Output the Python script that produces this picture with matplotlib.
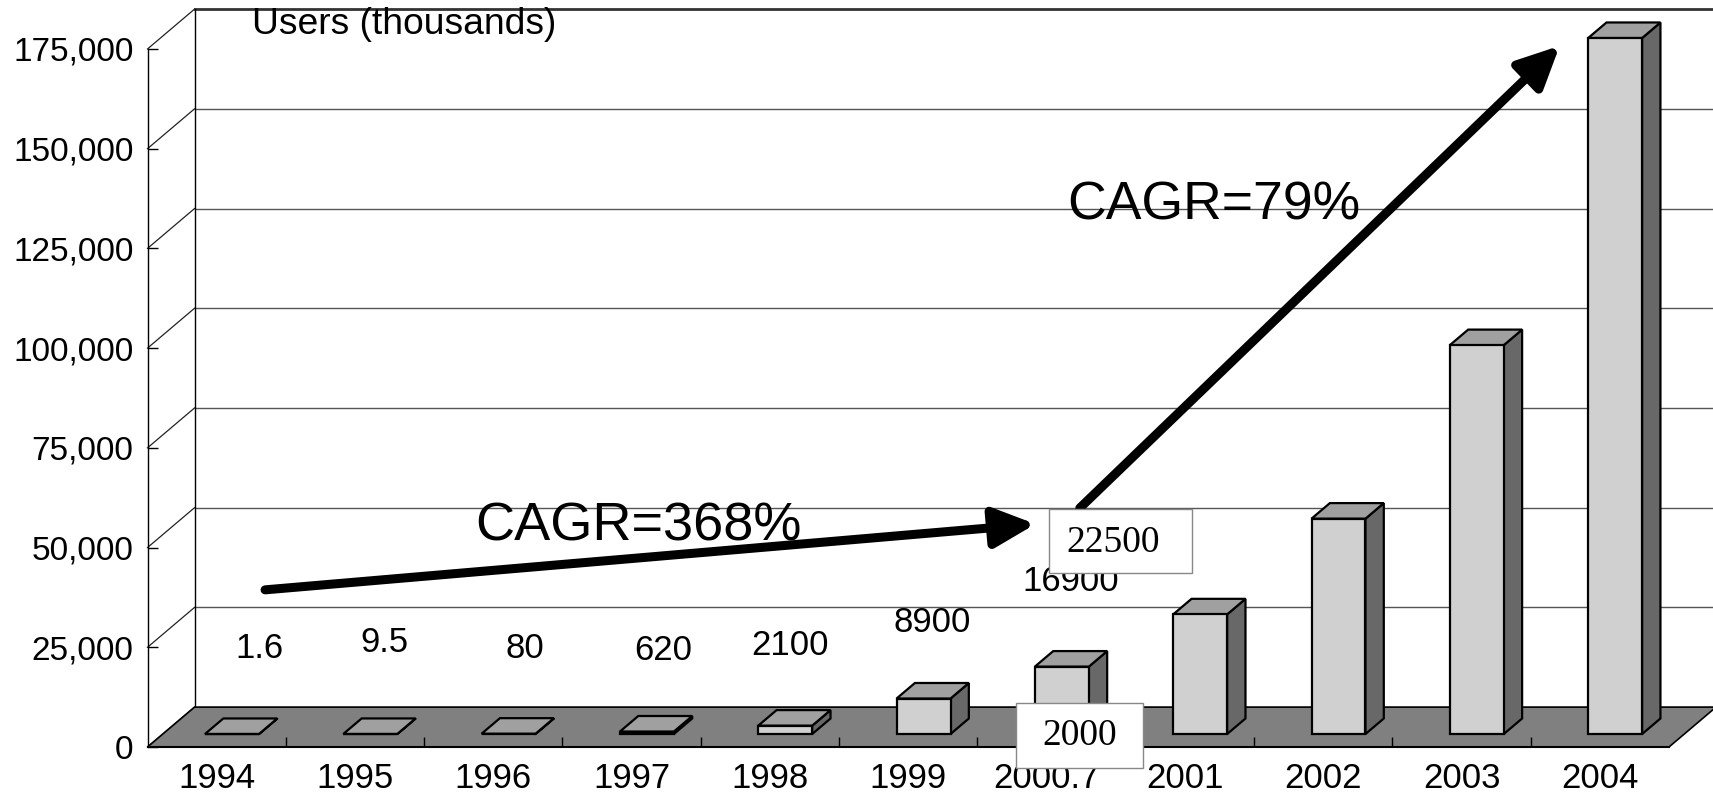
import matplotlib
matplotlib.use('Agg')
import matplotlib.pyplot as plt
from matplotlib.patches import Polygon, Rectangle, FancyArrowPatch
from matplotlib.ticker import FuncFormatter

plt.rcParams['font.family'] = ['Liberation Sans', 'DejaVu Sans']
NARROW = ['Liberation Sans Narrow', 'Liberation Sans', 'DejaVu Sans']
SERIF = ['Liberation Serif', 'DejaVu Serif']

# internet users per year, thousands
years = ['1994', '1995', '1996', '1997', '1998', '1999', '2000.7',
         '2001', '2002', '2003', '2004']
users = [1.6, 9.5, 80, 620, 2100, 8900, 16900, 30000, 54000, 97500, 174500]

# values written above the early bars
value_text = ['1.6', '9.5', '80', '620', '2100', '8900', '16900']
value_dx = [0.31, 0.21, 0.225, 0.23, 0.145, 0.17, 0.175]
value_y = [24600, 26200, 24600, 24100, 25400, 31200, 41600]

y_ticks = [0, 25000, 50000, 75000, 100000, 125000, 150000, 175000]

# boxed callouts: year 2000 -> 22500 thousand users
callout_text = ['22500', '2000']
callout_xy = [(6.98, 51100), (6.74, 2700)]
callout_box = [(6.517, 43500, 1.035, 16150), (6.28, -5300, 0.92, 16450)]

# growth arrows and their captions
cagr_text = ['CAGR=368%', 'CAGR=79%']
cagr_xy = [(2.37, 55300), (6.65, 135800)]
cagr_font = [(NARROW, 39), (['Liberation Sans', 'DejaVu Sans'], 38.5)]
cagr_from = [(0.85, 39400), (6.74, 59900)]
cagr_to = [(6.42, 55900), (10.21, 175800)]

# depth of the fake 3-D box, in data units
DX, DY = 0.34, 10000
BAR_W = 0.39
BAR_FRONT = 0.325   # bar front face, as share of floor depth
BAR_DEPTH = 0.39    # bar depth, as share of floor depth


def draw_bar(ax, x, v):
    """Draw one shaded 3-D column centred on category position x."""
    x0 = x + BAR_FRONT * DX - BAR_W / 2
    x1 = x0 + BAR_W
    y0 = BAR_FRONT * DY
    y1 = y0 + v
    bx, by = BAR_DEPTH * DX, BAR_DEPTH * DY
    side = [(x1, y0), (x1 + bx, y0 + by), (x1 + bx, y1 + by), (x1, y1)]
    top = [(x0, y1), (x1, y1), (x1 + bx, y1 + by), (x0 + bx, y1 + by)]
    front = [(x0, y0), (x1, y0), (x1, y1), (x0, y1)]
    for pts, c in ((side, '#686868'), (top, '#a0a0a0'), (front, '#d0d0d0')):
        ax.add_patch(Polygon(pts, closed=True, fc=c, ec='black', lw=1.6,
                             joinstyle='miter', zorder=3, clip_on=False))


fig = plt.figure(figsize=(17.13, 7.95), dpi=100)
ax = fig.add_axes([147.5 / 1713, 48 / 795, 1521.5 / 1713, 698 / 795])
ax.set_xlim(0, len(years))
ax.set_ylim(0, 175000)
ax.patch.set_visible(False)

n = len(years)

# back wall gridlines and the side-wall diagonals
for v in y_ticks:
    top = v == y_ticks[-1]
    ax.plot([DX, n + 1], [v + DY, v + DY], color='#333333' if top else '#555555',
            lw=2.0 if top else 1.0, clip_on=False, zorder=0.5)
    ax.plot([0, DX], [v, v + DY], color='#222222', lw=0.9, clip_on=False, zorder=0.5)
ax.plot([DX, DX], [DY, y_ticks[-1] + DY], color='black', lw=1.0, clip_on=False, zorder=0.5)

# floor
ax.add_patch(Polygon([(0, 0), (n, 0), (n + DX, DY), (DX, DY)], closed=True,
                     fc='#808080', ec='black', lw=1.2, zorder=1, clip_on=False))

for i, v in enumerate(users):
    draw_bar(ax, i + 0.5, v)

for i, t in enumerate(value_text):
    ax.text(i + 0.5 + value_dx[i], value_y[i], t, ha='center', va='center',
            fontsize=25, family=NARROW, zorder=4)

for (x, y), (bx, by, bw, bh), t in zip(callout_xy, callout_box, callout_text):
    ax.add_patch(Rectangle((bx, by), bw, bh, fc='white', ec='#888888', lw=1,
                           zorder=6, clip_on=False))
    ax.text(x, y, t, ha='center', va='center', fontsize=27, family=SERIF, zorder=6.5)

for (x, y), t, (f, s) in zip(cagr_xy, cagr_text, cagr_font):
    ax.text(x, y, t, ha='left', va='center', fontsize=s, family=f, zorder=5)

for a, b in zip(cagr_from, cagr_to):
    ax.add_patch(FancyArrowPatch(a, b, arrowstyle='-|>,head_length=25,head_width=12',
                                 mutation_scale=1, lw=6.5, color='black',
                                 shrinkA=0, shrinkB=0, zorder=5, clip_on=False))

ax.text(0.756, 181200, 'Users (thousands)', ha='left', va='center', fontsize=26.8, zorder=5)

# axes: front left edge and floor front edge
for s in ('top', 'right'):
    ax.spines[s].set_visible(False)
ax.spines['left'].set_linewidth(1.0)
ax.spines['bottom'].set_linewidth(1.5)
ax.spines['bottom'].set_zorder(2)

ax.set_yticks(y_ticks)
ax.yaxis.set_major_formatter(FuncFormatter(lambda v, p: f'{v:,.0f}'))
ax.tick_params(axis='y', direction='in', length=7, width=1, labelsize=24, pad=10)

ax.set_xticks([i + 0.5 for i in range(n)])
ax.set_xticklabels(years, family=NARROW)
ax.set_xticks(range(1, n), minor=True)
ax.tick_params(axis='x', which='major', length=0, labelsize=25, pad=11)
ax.tick_params(axis='x', which='minor', direction='in', length=7, width=1)

fig.savefig('out.png', dpi=100)
